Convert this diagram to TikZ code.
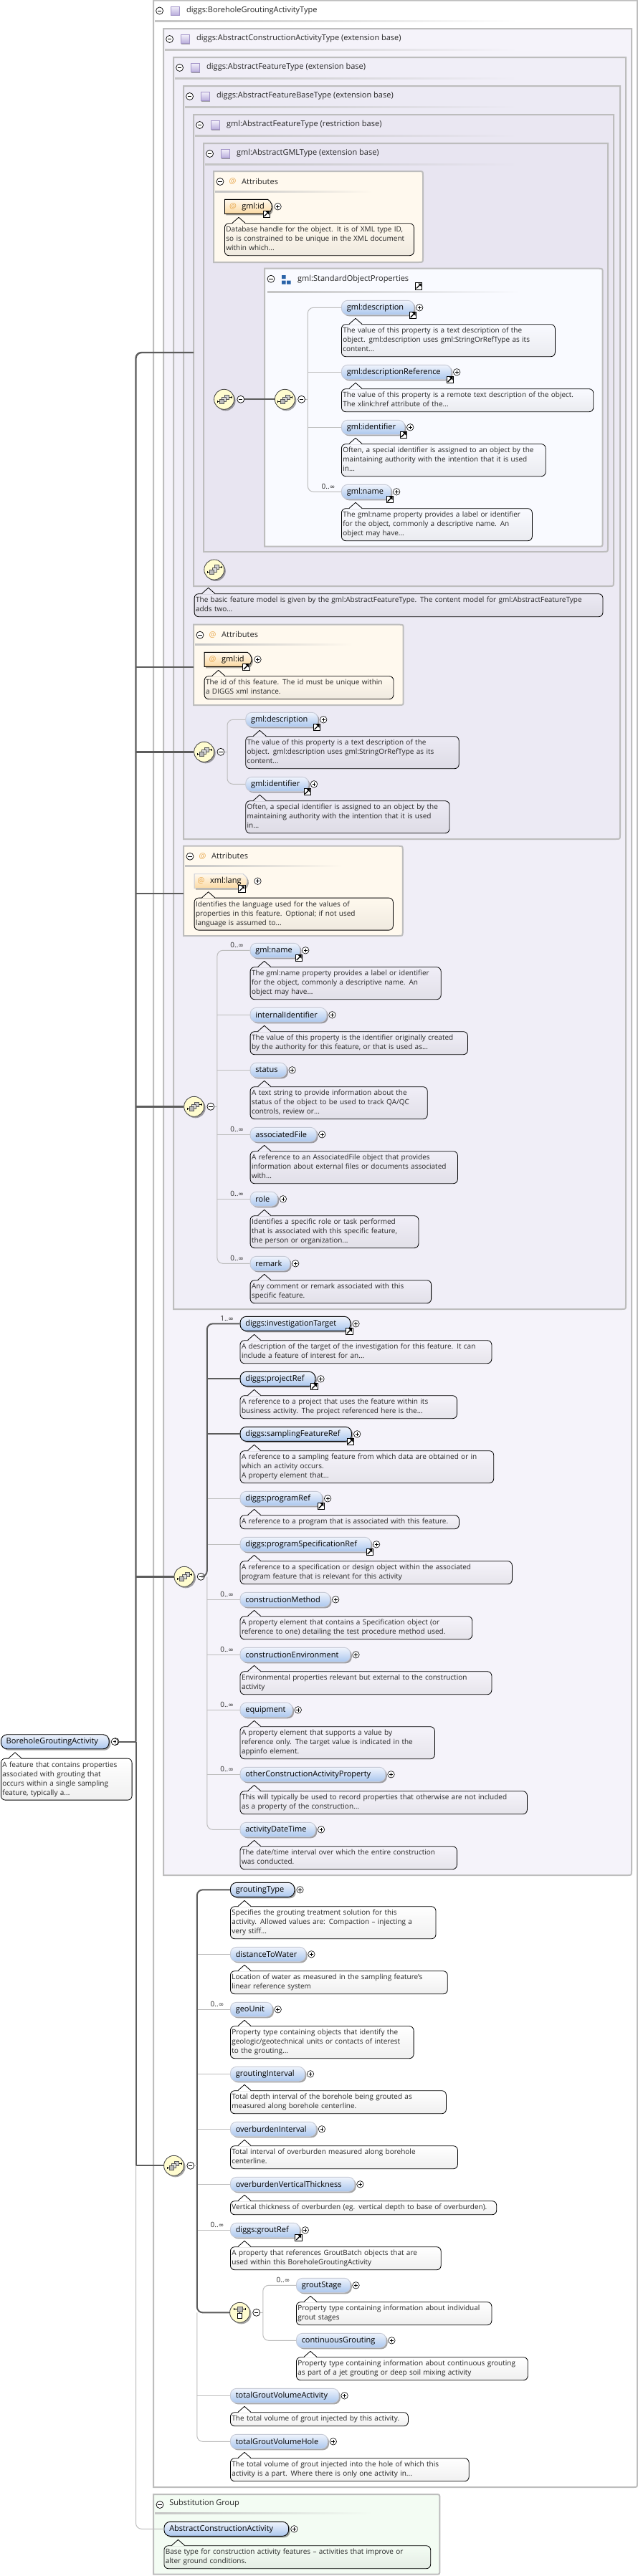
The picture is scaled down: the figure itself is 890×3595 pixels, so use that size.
\documentclass[tikz,border=0pt]{standalone}
\usepackage{fontspec}
\setmainfont{Open Sans}
\newfontfamily\symfont{DejaVu Sans}
\usetikzlibrary{shadows,shapes.misc}

\definecolor{framegray}{HTML}{BDBDBD}
\definecolor{sepgray}{HTML}{C4C4C4}
\definecolor{bgzero}{HTML}{FFFFFF}
\definecolor{bgone}{HTML}{F5F3FA}
\definecolor{bgtwo}{HTML}{F0EEF7}
\definecolor{bgthree}{HTML}{ECEAF4}
\definecolor{bgfour}{HTML}{EAE7F2}
\definecolor{bgfive}{HTML}{E8E5F1}
\definecolor{bgattr}{HTML}{FFF9EE}
\definecolor{bggroup}{HTML}{F9FAFF}
\definecolor{bgsubst}{HTML}{F3FCF3}
\definecolor{elemtop}{HTML}{F0F4FC}
\definecolor{elembot}{HTML}{ABC7EE}
\definecolor{elemedge}{HTML}{C6CAD6}
\definecolor{attrbot}{HTML}{FBD9A2}
\definecolor{attrorange}{HTML}{E9A94F}
\definecolor{compfill}{HTML}{FFFCCF}
\definecolor{mainline}{HTML}{5C5C5C}
\definecolor{optline}{HTML}{BDBDBD}
\definecolor{groupblue}{HTML}{2A63A8}
\definecolor{icontop}{HTML}{F2EFFA}
\definecolor{iconbot}{HTML}{B9ADDC}
\definecolor{iconedge}{HTML}{A395C8}
\colorlet{descbg}{white}

\tikzset{
  framebox/.style={draw=framegray,line width=2pt},
  minusbtn/.style={circle,draw=black,fill=white,minimum size=10pt,inner sep=0pt,line width=.7pt,
    path picture={\draw[line width=.7pt] ([xshift=-2.6pt]path picture bounding box.center) -- ([xshift=2.6pt]path picture bounding box.center);}},
  plusbtn/.style={circle,draw=black,fill=white,minimum size=9.5pt,inner sep=0pt,line width=.6pt,
    path picture={\draw[line width=.6pt] ([xshift=-2.4pt]path picture bounding box.center) -- ([xshift=2.4pt]path picture bounding box.center)
      ([yshift=-2.4pt]path picture bounding box.center) -- ([yshift=2.4pt]path picture bounding box.center);}},
  refbox/.style={rectangle,draw=black,fill=white,minimum size=9.5pt,inner sep=0pt,line width=.8pt,
    path picture={\fill[black] ([xshift=3.6pt,yshift=3.6pt]path picture bounding box.center) -- ([xshift=-.8pt,yshift=3.6pt]path picture bounding box.center)
      -- ([xshift=3.6pt,yshift=-.8pt]path picture bounding box.center) -- cycle;
      \draw[line width=1.3pt] ([xshift=-3.2pt,yshift=-3.2pt]path picture bounding box.center) -- ([xshift=1.5pt,yshift=1.5pt]path picture bounding box.center);}},
  typeicon/.style={rectangle,draw=iconedge,line width=.8pt,minimum size=12pt,inner sep=0pt,
    top color=icontop,bottom color=iconbot,
    drop shadow={shadow xshift=1pt,shadow yshift=-1pt,opacity=.35,fill=black}},
  hdrlabel/.style={anchor=west,inner sep=0pt,text=black!85,font=\fontsize{11}{13}\selectfont},
  elemnode/.style={rectangle,rounded corners=8.5pt,draw=elemedge,line width=.9pt,top color=elemtop,bottom color=elembot,
    anchor=west,minimum height=20pt,inner xsep=7.3pt,inner ysep=0pt,align=left,text=black,font=\fontsize{11}{13}\selectfont,
    drop shadow={shadow xshift=2pt,shadow yshift=-2pt,opacity=.35,fill=black}},
  attrnode/.style={rounded rectangle,rounded rectangle left arc=none,rounded rectangle arc length=120,
    draw=elemedge,line width=.9pt,top color=bgattr,bottom color=attrbot,
    anchor=west,minimum height=20pt,inner xsep=3pt,inner ysep=0pt,align=left,text=black,font=\fontsize{11}{13}\selectfont,
    drop shadow={shadow xshift=2pt,shadow yshift=-2pt,opacity=.35,fill=black}},
  reqd/.style={draw=black},
  descnode/.style={rectangle,rounded corners=6pt,draw=black,line width=.8pt,top color=descbg,bottom color=descbg!94!black,
    anchor=north west,inner xsep=2pt,inner ysep=0pt,align=left,text=black!85,font=\fontsize{10}{13}\selectfont},
  occur/.style={inner sep=0pt,text=black!85,font=\fontsize{10}{12}\selectfont},
  compnode/.style={circle,draw=black!75,line width=.8pt,fill=compfill,minimum size=28pt,inner sep=0pt,
    drop shadow={shadow xshift=2pt,shadow yshift=-2pt,opacity=.35,fill=black}},
  thickline/.style={draw=mainline,line width=2pt},
  thinline/.style={draw=optline,line width=1pt},
  smallsq/.style={draw=black!65,line width=.6pt},
  seqicon/.pic={
    \draw[line width=.9pt] (-9.6,3.3) -- (-3,3.3) (3.7,-3.3) -- (10.4,-3.3) (-9.6,1.8) -- (-9.6,4.8) (10.4,-4.8) -- (10.4,-1.8);
    \draw[smallsq,fill=gray!35] (.9,-6.3) rectangle (6.9,-.3);
    \draw[smallsq,fill=gray!25] (-3,-3) rectangle (3,3);
    \draw[smallsq,fill=gray!55] (-6.3,.3) rectangle (-.3,6.3);
  },
  choiceicon/.pic={
    \draw[line width=.9pt] (-8,-5) -- (8,-5) (-8,-6.5) -- (-8,-3.5) (8,-6.5) -- (8,-3.5) (0,-5) -- (0,4);
    \draw[smallsq,fill=gray!55] (-3.5,-8.5) rectangle (3.5,-1.5);
    \draw[line width=.8pt,draw=black,fill=white] (-3.2,.8) rectangle (3.2,8.2);
  }
}

% type frame: name, left, top, right, bottom, fill, label
\newcommand{\typeframe}[7]{%
  \draw[framebox,fill=#6] (#2,#3) -- (#4,#3) -- (#4,{#5-6}) .. controls (#4,#5) .. ({#4-6},#5) -- (#2,#5) -- cycle;
  \node[minusbtn] (#1-m) at ({#2+8.6},{#3+14.5}) {};
  \node[typeicon] (#1-i) at ({#2+30},{#3+14.5}) {};
  \node[hdrlabel] (#1-l) at ({#2+46},{#3+14}) {#7};
  \shade[left color=sepgray,right color=#6] ({#2+2},{#3+28}) rectangle (722,{#3+30});
}
% panel with rounded right side: name, left, top, right, bottom, fill
\newcommand{\panelbox}[6]{%
  \draw[framebox,fill=#6] (#2,#3) -- ({#4-6},#3) .. controls (#4,#3) .. (#4,{#3+6}) -- (#4,{#5-6}) .. controls (#4,#5) .. ({#4-6},#5) -- (#2,#5) -- cycle;
  \node[minusbtn] (#1-m) at ({#2+9},{#3+14.5}) {};
}
\newcommand{\attrpanel}[5]{%
  \panelbox{#1}{#2}{#3}{#4}{#5}{bgattr}
  \node[hdrlabel,anchor=center,text=attrorange] (#1-i) at ({#2+26.6},{#3+14.5}) {@};
  \node[hdrlabel] (#1-l) at ({#2+39},{#3+14}) {Attributes};
  \shade[left color=sepgray,right color=bgattr] ({#2+2},{#3+27}) rectangle ({#2+222},{#3+29});
}
\newcommand{\descat}[6]{%
  \node[descnode,minimum width={#4-#2},text width={#4-#2-4},minimum height={13*#5+6}] (#1) at (#2,#3)
    {\begin{tabular}{@{}l@{}}#6\end{tabular}};
  \fill[descbg] ([xshift=11pt,yshift=-1pt]#1.north west) -- ([xshift=20pt,yshift=8pt]#1.north west) -- ([xshift=29pt,yshift=-1pt]#1.north west) -- cycle;
  \draw[line width=.8pt,line join=round] ([xshift=11pt]#1.north west) -- ([xshift=20pt,yshift=8pt]#1.north west) -- ([xshift=29pt]#1.north west);
}
\newcommand{\elem}[6][]{%
  \def\elemleft{#3}\def\elemcy{#4}%
  \node[plusbtn] (#2-p) at ({#5+8.2},#4) {};
  \node[elemnode,#1,minimum width={#5-#3},text width={#5-#3-14.6}] (#2) at (#3,#4) {\mbox{#6}};
}
\newcommand{\attrelem}[6][]{%
  \def\elemleft{#3}\def\elemcy{#4}%
  \node[plusbtn] (#2-p) at ({#5+9},#4) {};
  \node[attrnode,#1,minimum width={#5-#3}] (#2) at (#3,#4)
    {\mbox{\makebox[17pt][c]{\color{attrorange}@}\hspace{4pt}#6\hspace{6pt}}};
}
\newcommand{\refmark}[1]{\node[refbox] (#1-r) at ([xshift=-2pt]#1.south east) {};}
\newcommand{\occ}[2]{\node[occur] (#1-o) at ([xshift=-18pt,yshift=7pt]#1.west) {#2};}
\newcommand{\unbdd}{{\symfont\fontsize{9}{12}\selectfont ∞}}
\newcommand{\descr}[4]{\descat{#1-d}{\elemleft}{\elemcy+23}{#2}{#3}{#4}}
\newcommand{\comp}[3]{%
  \node[compnode] (#1) at (#2,#3) {};
  \pic at (#1) {seqicon};
  \node[minusbtn] (#1-m) at ({#2+23.2},#3) {};
}

\begin{document}
\begin{tikzpicture}[x=1pt,y=-1pt]
  \useasboundingbox (0,0) rectangle (890,3595);

  \typeframe{ftype}{214}{.5}{889}{3471}{bgzero}{diggs:BoreholeGroutingActivityType}
  \typeframe{fconstr}{228}{40}{881}{2617}{bgone}{diggs:AbstractConstructionActivityType (extension base)}
  \typeframe{ffeat}{242}{80}{873}{1827}{bgtwo}{diggs:AbstractFeatureType (extension base)}
  \typeframe{fbase}{256}{120}{865}{1171}{bgthree}{diggs:AbstractFeatureBaseType (extension base)}
  \typeframe{fgmlfeat}{270}{160}{856}{818}{bgfour}{gml:AbstractFeatureType (restriction base)}
  \typeframe{fgml}{284}{200}{848}{770}{bgfive}{gml:AbstractGMLType (extension base)}

  % gml type attributes
  \attrpanel{attra}{298}{239}{590}{366}
  \colorlet{descbg}{bgattr}
  \attrelem[reqd]{gmlid}{313}{288.3}{378.6}{gml:id}\refmark{gmlid}
  \descr{gmlid}{577}{3}{Database handle for the object. It is of XML type ID,\\so is constrained to be unique in the XML document\\within which...}

  % standard object properties
  \panelbox{sop}{369}{374.7}{840.6}{762.7}{bggroup}
  \fill[groupblue] (393,384) rectangle (398.5,389) (393,391.5) rectangle (398.5,396.5) (400,391.5) rectangle (405.5,396.5);
  \node[hdrlabel] (sop-l) at (415,389.3) {gml:StandardObjectProperties};
  \node[refbox] (sop-r) at (584,399.3) {};
  \shade[left color=sepgray,right color=bggroup] (373,406.7) rectangle (725,408.7);
  \comp{cmpa}{312.6}{557.3}
  \comp{cmpb}{397.4}{557.3}
  \colorlet{descbg}{bggroup}
  \elem{sopdesc}{476}{429.3}{577}{gml:description}\refmark{sopdesc}
  \descr{sopdesc}{774}{3}{The value of this property is a text description of the\\object. gml:description uses gml:StringOrRefType as its\\content...}
  \elem{sopref}{476}{519.3}{629}{gml:descriptionReference}\refmark{sopref}
  \descr{sopref}{827.4}{2}{The value of this property is a remote text description of the object.\\The xlink:href attribute of the...}
  \elem{sopident}{476}{596.3}{564}{gml:identifier}\refmark{sopident}
  \descr{sopident}{760.8}{3}{Often, a special identifier is assigned to an object by the\\maintaining authority with the intention that it is used\\in...}
  \elem{sopname}{476}{686.3}{545}{gml:name}\refmark{sopname}\occ{sopname}{0..\unbdd}
  \descr{sopname}{742}{3}{The gml:name property provides a label or identifier\\for the object, commonly a descriptive name. An\\object may have...}

  \node[compnode] (cmpd) at (298.8,795) {};
  \pic at (cmpd) {seqicon};
  \colorlet{descbg}{bgthree}
  \descat{fgmlfeat-d}{270.7}{828.3}{840.6}{2}{The basic feature model is given by the gml:AbstractFeatureType. The content model for gml:AbstractFeatureType\\adds two...}

  % feature base type
  \attrpanel{attrb}{270}{871.7}{562.7}{984}
  \colorlet{descbg}{bgattr}
  \attrelem[reqd]{baseid}{284.7}{920.3}{350.5}{gml:id}\refmark{baseid}
  \descr{baseid}{548.6}{2}{The id of this feature. The id must be unique within\\a DIGGS xml instance.}
  \comp{cmpc}{284.7}{1049.3}
  \colorlet{descbg}{bgthree}
  \elem{basedesc}{342.3}{1004.3}{443}{gml:description}\refmark{basedesc}
  \descr{basedesc}{639.8}{3}{The value of this property is a text description of the\\object. gml:description uses gml:StringOrRefType as its\\content...}
  \elem{baseident}{342.3}{1094.3}{429.8}{gml:identifier}\refmark{baseident}
  \descr{baseident}{626.6}{3}{Often, a special identifier is assigned to an object by the\\maintaining authority with the intention that it is used\\in...}

  % feature type
  \attrpanel{attrc}{256}{1180.7}{561.8}{1306}
  \colorlet{descbg}{bgattr}
  \attrelem{xmllang}{270.7}{1229.7}{350.5}{xml:lang}\refmark{xmllang}
  \descr{xmllang}{548}{3}{Identifies the language used for the values of\\properties in this feature. Optional; if not used\\language is assumed to...}
  \comp{cmpf}{270.7}{1544.3}
  \colorlet{descbg}{bgtwo}
  \elem{featname}{348.7}{1326.3}{418}{gml:name}\refmark{featname}\occ{featname}{0..\unbdd}
  \descr{featname}{614.8}{3}{The gml:name property provides a label or identifier\\for the object, commonly a descriptive name. An\\object may have...}
  \elem{internalid}{348.7}{1416.3}{455.2}{internalIdentifier}
  \descr{internalid}{652}{2}{The value of this property is the identifier originally created\\by the authority for this feature, or that is used as...}
  \elem{status}{348.7}{1493.3}{399.4}{status}
  \descr{status}{595.8}{3}{A text string to provide information about the\\status of the object to be used to track QA/QC\\controls, review or...}
  \elem{assocfile}{348.7}{1583.3}{441}{associatedFile}\occ{assocfile}{0..\unbdd}
  \descr{assocfile}{638}{3}{A reference to an AssociatedFile object that provides\\information about external files or documents associated\\with...}
  \elem{role}{348.7}{1673.3}{386.7}{role}\occ{role}{0..\unbdd}
  \descr{role}{583.5}{3}{Identifies a specific role or task performed\\that is associated with this specific feature,\\the person or organization...}
  \elem{remark}{348.7}{1763.3}{404}{remark}\occ{remark}{0..\unbdd}
  \descr{remark}{601.2}{2}{Any comment or remark associated with this\\specific feature.}

  % construction activity type
  \comp{cmpe}{257}{2200.3}
  \colorlet{descbg}{bgone}
  \elem[reqd]{invtarget}{334.6}{1847.3}{488.3}{diggs:investigationTarget}\refmark{invtarget}\occ{invtarget}{1..\unbdd}
  \descr{invtarget}{685.5}{2}{A description of the target of the investigation for this feature. It can\\include a feature of interest for an...}
  \elem[reqd]{projref}{334.6}{1924.3}{439.3}{diggs:projectRef}\refmark{projref}
  \descr{projref}{637}{2}{A reference to a project that uses the feature within its\\business activity. The project referenced here is the...}
  \elem[reqd]{sampref}{334.6}{2001.3}{490}{diggs:samplingFeatureRef}\refmark{sampref}
  \descr{sampref}{688.3}{3}{A reference to a sampling feature from which data are obtained or in\\which an activity occurs.\\A property element that...}
  \elem{progref}{334.6}{2091.3}{448.9}{diggs:programRef}\refmark{progref}
  \descr{progref}{640}{1}{A reference to a program that is associated with this feature.}
  \elem{progspec}{334.6}{2155.3}{516.9}{diggs:programSpecificationRef}\refmark{progspec}
  \descr{progspec}{714}{2}{A reference to a specification or design object within the associated\\program feature that is relevant for this activity}
  \elem{conmethod}{334.6}{2232.3}{460}{constructionMethod}\occ{conmethod}{0..\unbdd}
  \descr{conmethod}{658.3}{2}{A property element that contains a Specification object (or\\reference to one) detailing the test procedure method used.}
  \elem{conenv}{334.6}{2309.3}{488.3}{constructionEnvironment}\occ{conenv}{0..\unbdd}
  \descr{conenv}{685.5}{2}{Environmental properties relevant but external to the construction\\activity}
  \elem{equipment}{334.6}{2386.3}{407.6}{equipment}\occ{equipment}{0..\unbdd}
  \descr{equipment}{606}{3}{A property element that supports a value by\\reference only. The target value is indicated in the\\appinfo element.}
  \elem{otherprop}{334.6}{2476.3}{537.3}{otherConstructionActivityProperty}\occ{otherprop}{0..\unbdd}
  \descr{otherprop}{735}{2}{This will typically be used to record properties that otherwise are not included\\as a property of the construction...}
  \elem{activitydate}{334.6}{2553.3}{439.8}{activityDateTime}
  \descr{activitydate}{637}{2}{The date/time interval over which the entire construction\\was conducted.}

  % borehole grouting type
  \comp{cmpg}{242.6}{3022.3}
  \colorlet{descbg}{bgzero}
  \elem[reqd]{grouttype}{321}{2637.3}{410.3}{groutingType}
  \descr{grouttype}{607.6}{3}{Specifies the grouting treatment solution for this\\activity. Allowed values are: Compaction -- injecting a\\very stiff...}
  \elem{distwater}{321}{2727.3}{426.2}{distanceToWater}
  \descr{distwater}{623.9}{2}{Location of water as measured in the sampling feature's\\linear reference system}
  \elem{geounit}{321}{2804.3}{379.5}{geoUnit}\occ{geounit}{0..\unbdd}
  \descr{geounit}{576.7}{3}{Property type containing objects that identify the\\geologic/geotechnical units or contacts of interest\\to the grouting...}
  \elem{groutint}{321}{2894.3}{424.8}{groutingInterval}
  \descr{groutint}{622}{2}{Total depth interval of the borehole being grouted as\\measured along borehole centerline.}
  \elem{overint}{321}{2971.3}{440.7}{overburdenInterval}
  \descr{overint}{638}{2}{Total interval of overburden measured along borehole\\centerline.}
  \elem{overthick}{321}{3048.3}{494.2}{overburdenVerticalThickness}
  \descr{overthick}{692.3}{1}{Vertical thickness of overburden (eg. vertical depth to base of overburden).}
  \elem{groutref}{321}{3112.3}{417.6}{diggs:groutRef}\refmark{groutref}\occ{groutref}{0..\unbdd}
  \descr{groutref}{614.8}{2}{A property that references GroutBatch objects that are\\used within this BoreholeGroutingActivity}
  \node[compnode] (cmph) at (334.6,3227.3) {};
  \pic at (cmph) {choiceicon};
  \node[minusbtn] (cmph-m) at (357.7,3227.3) {};
  \elem{groutstage}{413}{3189.3}{488.3}{groutStage}\occ{groutstage}{0..\unbdd}
  \descr{groutstage}{685.5}{2}{Property type containing information about individual\\grout stages}
  \elem{contgrout}{413}{3266.3}{538.2}{continuousGrouting}
  \descr{contgrout}{735.9}{2}{Property type containing information about continuous grouting\\as part of a jet grouting or deep soil mixing activity}
  \elem{volact}{321}{3343.3}{472.4}{totalGroutVolumeActivity}
  \descr{volact}{569}{1}{The total volume of grout injected by this activity.}
  \elem{volhole}{321}{3407.3}{456.6}{totalGroutVolumeHole}
  \descr{volhole}{653.8}{2}{The total volume of grout injected into the hole of which this\\activity is a part. Where there is only one activity in...}

  % substitution group
  \panelbox{subst}{214}{3481}{613.4}{3592.7}{bgsubst}
  \node[hdrlabel] (subst-l) at (236.2,3494) {Substitution Group};
  \shade[left color=sepgray,right color=bgsubst] (216,3506.7) rectangle (520,3508.7);
  \colorlet{descbg}{bgsubst}
  \elem[reqd]{absact}{228.5}{3529.3}{402.2}{AbstractConstructionActivity}
  \descr{absact}{600.3}{2}{Base type for construction activity features -- activities that improve or\\alter ground conditions.}

  % root element
  \colorlet{descbg}{bgzero}
  \node[minusbtn] (root-m) at (161,2430.5) {};
  \elem[reqd]{root}{1}{2430.7}{151.7}{BoreholeGroutingActivity}
  \descr{root}{183.7}{4}{A feature that contains properties\\associated with grouting that\\occurs within a single sampling\\feature, typically a...}

  % main connectors
  \coordinate (mainx) at (189.5,0);
  \coordinate (gmltop) at (270,492);
  \coordinate (idleft) at (270,931);
  \coordinate (langleft) at (256,1247);
  \draw[thickline,line width=2.4pt,rounded corners=8pt] (gmltop) -- (mainx |- gmltop) -- (mainx |- root-m);
  \draw[thickline,line width=2.4pt] (idleft) -- (mainx |- idleft);
  \draw[thickline,line width=2.4pt] (cmpc.west) -- (mainx |- cmpc.west);
  \draw[thickline,line width=2.4pt] (langleft) -- (mainx |- langleft);
  \draw[thickline,line width=2.4pt] (cmpf.west) -- (mainx |- cmpf.west);
  \draw[thickline,line width=2.4pt] (cmpe.west) -- (mainx |- cmpe.west);
  \draw[thickline] (root-m.east) -- (mainx |- root-m);
  \draw[thickline] (mainx |- root-m) -- (mainx |- cmpg.west) -- (cmpg.west);
  \draw[thinline,rounded corners=8pt] (mainx |- cmpg.west) -- (mainx |- absact.west) -- (absact.west);

  % standard object properties connectors
  \draw[thickline] (cmpa-m.east) -- (cmpb.west);
  \coordinate (trunkb) at (429.3,0);
  \draw[thinline] (cmpb-m.east) -- (trunkb |- cmpb-m.east);
  \draw[thinline,rounded corners=8pt] (sopdesc.west) -- (trunkb |- sopdesc.west) -- (trunkb |- sopname.west) -- (sopname.west);
  \draw[thinline] (trunkb |- sopref.west) -- (sopref.west);
  \draw[thinline] (trunkb |- sopident.west) -- (sopident.west);

  \coordinate (trunkc) at (317,0);
  \draw[thinline] (cmpc-m.east) -- (trunkc |- cmpc-m.east);
  \draw[thinline,rounded corners=8pt] (basedesc.west) -- (trunkc |- basedesc.west) -- (trunkc |- baseident.west) -- (baseident.west);

  \coordinate (trunkf) at (302.9,0);
  \draw[thinline] (cmpf-m.east) -- (trunkf |- cmpf-m.east);
  \draw[thinline,rounded corners=8pt] (featname.west) -- (trunkf |- featname.west) -- (trunkf |- remark.west) -- (remark.west);
  \draw[thinline] (trunkf |- internalid.west) -- (internalid.west);
  \draw[thinline] (trunkf |- status.west) -- (status.west);
  \draw[thinline] (trunkf |- assocfile.west) -- (assocfile.west);
  \draw[thinline] (trunkf |- role.west) -- (role.west);

  \coordinate (trunke) at (288.8,0);
  \draw[thinline,rounded corners=8pt] (trunke |- cmpe-m.east) -- (trunke |- activitydate.west) -- (activitydate.west);
  \draw[thinline] (trunke |- progref.west) -- (progref.west);
  \draw[thinline] (trunke |- progspec.west) -- (progspec.west);
  \draw[thinline] (trunke |- conmethod.west) -- (conmethod.west);
  \draw[thinline] (trunke |- conenv.west) -- (conenv.west);
  \draw[thinline] (trunke |- equipment.west) -- (equipment.west);
  \draw[thinline] (trunke |- otherprop.west) -- (otherprop.west);
  \draw[thickline,rounded corners=8pt] (invtarget.west) -- (trunke |- invtarget.west) -- (trunke |- cmpe-m.east) -- (cmpe-m.east);
  \draw[thickline] (trunke |- projref.west) -- (projref.west);
  \draw[thickline] (trunke |- sampref.west) -- (sampref.west);

  \coordinate (trunkg) at (274.8,0);
  \draw[thinline,rounded corners=8pt] (trunkg |- cmph.west) -- (trunkg |- volhole.west) -- (volhole.west);
  \draw[thinline] (trunkg |- distwater.west) -- (distwater.west);
  \draw[thinline] (trunkg |- geounit.west) -- (geounit.west);
  \draw[thinline] (trunkg |- groutint.west) -- (groutint.west);
  \draw[thinline] (trunkg |- overint.west) -- (overint.west);
  \draw[thinline] (trunkg |- overthick.west) -- (overthick.west);
  \draw[thinline] (trunkg |- groutref.west) -- (groutref.west);
  \draw[thinline] (trunkg |- volact.west) -- (volact.west);
  \draw[thickline,rounded corners=8pt] (grouttype.west) -- (trunkg |- grouttype.west) -- (trunkg |- cmph.west) -- (cmph.west);
  \draw[thinline] (cmpg-m.east) -- (trunkg |- cmpg-m.east);

  \coordinate (trunkh) at (366.8,0);
  \draw[thinline] (cmph-m.east) -- (trunkh |- cmph-m.east);
  \draw[thinline,rounded corners=8pt] (groutstage.west) -- (trunkh |- groutstage.west) -- (trunkh |- contgrout.west) -- (contgrout.west);
\end{tikzpicture}
\end{document}
